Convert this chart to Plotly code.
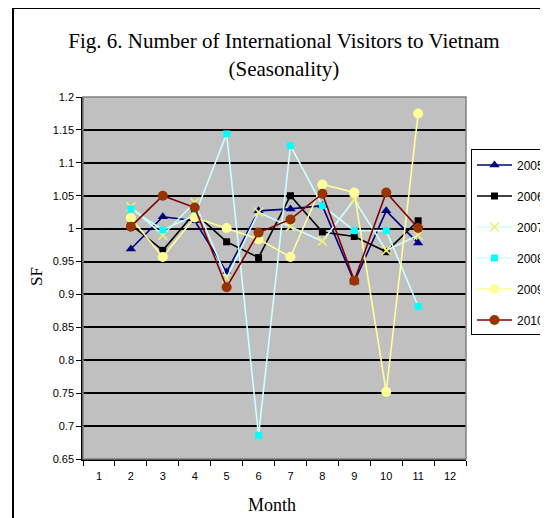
import plotly.graph_objects as go

months = [str(m) for m in range(1, 13)]
series_months = [str(m) for m in range(2, 12)]

y2005 = [0.969, 1.018, 1.012, 0.934, 1.027, 1.030, 1.035, 0.919, 1.027, 0.978]
y2006 = [1.006, 0.967, 1.024, 0.980, 0.956, 1.050, 0.995, 0.988, 0.965, 1.012]
y2007 = [1.033, 0.990, 1.040, 0.925, 1.025, 1.003, 0.981, 1.044, 0.967, 0.990]
y2008 = [1.030, 0.998, 1.020, 1.144, 0.686, 1.126, 1.035, 0.997, 0.997, 0.882]
y2009 = [1.016, 0.957, 1.017, 1.001, 0.984, 0.957, 1.067, 1.055, 0.752, 1.175]
y2010 = [1.003, 1.050, 1.032, 0.911, 0.994, 1.014, 1.053, 0.921, 1.055, 1.001]

series = [
    ("2005", y2005, "#000080", dict(symbol="triangle-up", size=9, color="#000080")),
    ("2006", y2006, "#000000", dict(symbol="square", size=7, color="#000000")),
    ("2007", y2007, "#CCFFFF", dict(symbol="x-thin", size=9, color="#FFFF80",
                                   line=dict(color="#F2EE70", width=1.6))),
    ("2008", y2008, "#CCFFFF", dict(symbol="square", size=7, color="#00FFFF")),
    ("2009", y2009, "#FFFF99", dict(symbol="circle", size=10, color="#FFFF99")),
    ("2010", y2010, "#800000", dict(symbol="circle", size=10, color="#993300")),
]

fig = go.Figure()
for name, ys, lc, mk in series:
    fig.add_trace(go.Scatter(
        x=series_months, y=ys, name=name, mode="lines+markers",
        line=dict(color=lc, width=1.6), marker=mk, legendgroup=name,
    ))

serif = "Liberation Serif, Times New Roman, serif"
sans = "Liberation Sans, Arial, sans-serif"

fig.update_layout(
    width=540, height=510,
    margin=dict(l=75, r=82, t=89, b=59, autoexpand=False),
    paper_bgcolor="white",
    plot_bgcolor="#C0C0C0",
    title=dict(
        text="Fig. 6. Number of International Visitors to Vietnam<br>(Seasonality)",
        x=0.511, xanchor="center", y=0.9206, yanchor="top",
        font=dict(family=serif, size=21, color="black"),
    ),
    showlegend=True,
    legend=dict(
        x=1.013, xanchor="left", y=0.855, yanchor="top",
        bgcolor="white", bordercolor="black", borderwidth=1,
        font=dict(family=sans, size=12, color="black"),
        tracegroupgap=12, traceorder="grouped", itemwidth=35,
    ),
    xaxis=dict(
        type="category", categoryorder="array", categoryarray=months,
        range=[-0.5, 11.5], showgrid=False, zeroline=False,
        showline=True, linecolor="black", linewidth=1.5,
        ticks="outside", tickson="boundaries", ticklen=5, tickcolor="black",
        ticklabelstandoff=6,
        tickfont=dict(family=sans, size=11, color="black"),
    ),
    yaxis=dict(
        range=[0.65, 1.2], dtick=0.05, tick0=0.65,
        showgrid=True, gridcolor="black", gridwidth=1.5, zeroline=False,
        showline=True, linecolor="black", linewidth=1.5,
        ticks="outside", ticklen=5, tickcolor="black",
        tickfont=dict(family=sans, size=11, color="black"),
    ),
    annotations=[
        dict(text="SF", xref="paper", yref="paper", x=-0.12, y=0.503,
             xanchor="center", yanchor="middle",
             showarrow=False, textangle=-90,
             font=dict(family=serif, size=17, color="black")),
        dict(text="Month", xref="paper", yref="paper", x=0.494, y=-0.127,
             xanchor="center", yanchor="middle",
             showarrow=False, font=dict(family=serif, size=18, color="black")),
    ],
    shapes=[
        dict(type="rect", xref="paper", yref="paper", x0=0, x1=1, y0=0, y1=1,
             line=dict(color="#808080", width=1.5), layer="above"),
        dict(type="rect", xref="paper", yref="paper", x0=-0.1828, x1=2.0,
             y0=-1.0, y1=1.246, line=dict(color="black", width=2), layer="below"),
    ],
)

fig.write_html("out.html")
